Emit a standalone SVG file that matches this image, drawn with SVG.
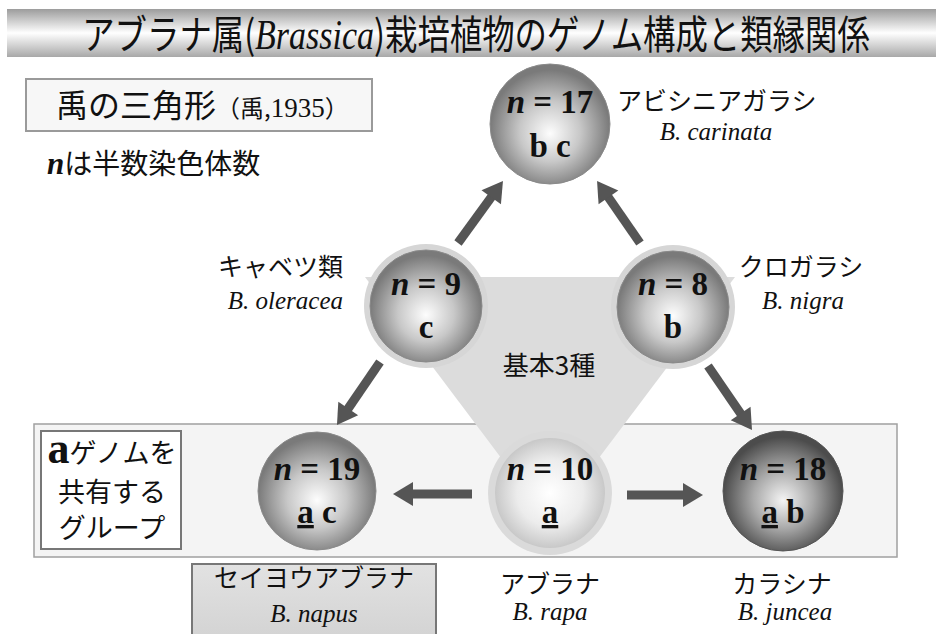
<svg xmlns="http://www.w3.org/2000/svg" width="936" height="634" viewBox="0 0 936 634">
<defs>
<linearGradient id="titleGrad" x1="0" y1="0" x2="0" y2="1">
<stop offset="0" stop-color="#9c9c9c"/>
<stop offset="0.5" stop-color="#ffffff"/>
<stop offset="1" stop-color="#a8a8a8"/>
</linearGradient>
<radialGradient id="sphMid" cx="0.5" cy="0.55" r="0.5" fx="0.5" fy="0.58">
<stop offset="0" stop-color="#fdfdfd"/>
<stop offset="0.5" stop-color="#c8c8c8"/>
<stop offset="1" stop-color="#7a7a7a"/>
</radialGradient>
<radialGradient id="sphDark" cx="0.5" cy="0.55" r="0.5" fx="0.5" fy="0.58">
<stop offset="0" stop-color="#f4f4f4"/>
<stop offset="0.5" stop-color="#a8a8a8"/>
<stop offset="1" stop-color="#4c4c4c"/>
</radialGradient>
<radialGradient id="sphLight" cx="0.5" cy="0.5" r="0.5" fx="0.5" fy="0.5">
<stop offset="0" stop-color="#ffffff"/>
<stop offset="0.6" stop-color="#ececec"/>
<stop offset="1" stop-color="#c8c8c8"/>
</radialGradient>
<linearGradient id="napusGrad" x1="0" y1="0" x2="0" y2="1">
<stop offset="0" stop-color="#e2e2e2"/>
<stop offset="1" stop-color="#d2d2d2"/>
</linearGradient>
<marker id="ah" markerUnits="userSpaceOnUse" markerWidth="24" markerHeight="26" viewBox="0 -13 22 26" refX="2" refY="0" orient="auto">
<path d="M0,-12 L20,0 L0,12 Z" fill="#555"/>
</marker>
</defs>
<style>
.jp{font-family:"Noto Sans CJK JP","Noto Sans",sans-serif;fill:#111;}
.lat{font-family:"Liberation Serif","Times New Roman",serif;fill:#111;}
.it{font-style:italic;}
.num{font-family:"Liberation Serif","Times New Roman",serif;font-weight:bold;font-size:33px;fill:#111;text-anchor:middle;}
.lbl{font-size:25px;}
.sp{font-family:"Liberation Serif","Times New Roman",serif;font-style:italic;font-size:25px;fill:#111;}
.arrow{stroke:#555;stroke-width:9;fill:none;marker-end:url(#ah);}
.halo{fill:#d6d6d6;}
.edge{stroke:#8a8a8a;stroke-width:1;}
</style>
<rect width="936" height="634" fill="#ffffff"/>

<g id="title">
<rect x="7" y="9" width="929" height="48" fill="url(#titleGrad)"/>
<g transform="translate(476,49) scale(0.81,1)">
<text class="jp" x="0" y="0" font-size="40" text-anchor="middle">アブラナ属(<tspan style="font-family:'Liberation Serif',serif;font-style:italic" font-size="42">Brassica</tspan>)栽培植物のゲノム構成と類縁関係</text>
</g>
</g>

<g id="u-triangle-box">
<rect x="26" y="79" width="346" height="52" fill="#f7f7f7" stroke="#9a9a9a" stroke-width="2"/>
<text class="jp" x="56" y="117" font-size="32">禹の三角形<tspan font-size="24">（禹,</tspan><tspan style="font-family:'Liberation Serif',serif" font-size="27">1935</tspan><tspan font-size="24">）</tspan></text>
</g>
<g id="note">
<text class="jp" x="47" y="174" font-size="28"><tspan style="font-family:'Liberation Serif',serif;font-style:italic;font-weight:bold" font-size="31">n</tspan>は半数染色体数</text>
</g>

<g id="a-group">
<rect x="34" y="424" width="863" height="133" fill="#f4f4f4" stroke="#a0a0a0" stroke-width="1.5"/>
</g>

<g id="basic-triangle">
<polygon points="365,277 735,277 550,523" fill="#dcdcdc"/>
<text class="jp" x="549" y="375" font-size="26" text-anchor="middle">基本3種</text>
</g>

<g id="a-group-label">
<rect x="41" y="431" width="140" height="118" fill="#ffffff" stroke="#777" stroke-width="2"/>
<text class="jp" x="112" y="463" font-size="27" text-anchor="middle"><tspan style="font-family:'Liberation Serif',serif;font-weight:bold" font-size="44">a</tspan>ゲノムを</text>
<text class="jp" x="112" y="502" font-size="27" text-anchor="middle">共有する</text>
<text class="jp" x="112" y="538" font-size="27" text-anchor="middle">グループ</text>
</g>

<g id="connectors">
<line class="arrow" x1="458" y1="243" x2="492.4" y2="195.6"/>
<line class="arrow" x1="640" y1="243" x2="607.3" y2="195.8"/>
<line class="arrow" x1="380" y1="362" x2="347.1" y2="410.1"/>
<line class="arrow" x1="708" y1="366" x2="741.8" y2="415.2"/>
<line class="arrow" x1="472" y1="494" x2="411" y2="494"/>
<line class="arrow" x1="627" y1="495" x2="685" y2="495"/>
</g>

<g id="node-carinata">
<circle cx="550" cy="124" r="60" fill="url(#sphMid)" class="edge"/>
<text class="num" x="550" y="113"><tspan font-style="italic">n</tspan> = 17</text>
<text class="num" x="550" y="157">b c</text>
<text class="jp lbl" x="617" y="110">アビシニアガラシ</text>
<text class="sp" x="716" y="140" text-anchor="middle">B. carinata</text>
</g>

<g id="node-oleracea">
<circle cx="426" cy="306" r="62" class="halo"/>
<circle cx="426" cy="306" r="56" fill="url(#sphMid)" class="edge"/>
<text class="num" x="426" y="295"><tspan font-style="italic">n</tspan> = 9</text>
<text class="num" x="426" y="338">c</text>
<text class="jp lbl" x="343" y="276" text-anchor="end">キャベツ類</text>
<text class="sp" x="343" y="309" text-anchor="end">B. oleracea</text>
</g>

<g id="node-nigra">
<circle cx="673" cy="307" r="62" class="halo"/>
<circle cx="673" cy="307" r="56" fill="url(#sphMid)" class="edge"/>
<text class="num" x="673" y="295"><tspan font-style="italic">n</tspan> = 8</text>
<text class="num" x="673" y="338">b</text>
<text class="jp lbl" x="801" y="276" text-anchor="middle">クロガラシ</text>
<text class="sp" x="803" y="309" text-anchor="middle">B. nigra</text>
</g>

<g id="node-rapa">
<circle cx="550" cy="493" r="62" fill="#dadada"/>
<circle cx="550" cy="493" r="55" fill="url(#sphLight)"/>
<text class="num" x="550" y="480"><tspan font-style="italic">n</tspan> = 10</text>
<text class="num" x="550" y="523"><tspan text-decoration="underline">a</tspan></text>
<text class="jp lbl" x="550" y="593" text-anchor="middle">アブラナ</text>
<text class="sp" x="550" y="620" text-anchor="middle">B. rapa</text>
</g>

<g id="node-napus">
<circle cx="317" cy="491" r="59" fill="url(#sphMid)" class="edge"/>
<text class="num" x="317" y="480"><tspan font-style="italic">n</tspan> = 19</text>
<text class="num" x="317" y="523"><tspan text-decoration="underline">a</tspan> c</text>
<rect x="192" y="564" width="244" height="80" fill="url(#napusGrad)" stroke="#777" stroke-width="2"/>
<text class="jp lbl" x="314" y="587" text-anchor="middle">セイヨウアブラナ</text>
<text class="sp" x="314" y="622" text-anchor="middle">B. napus</text>
</g>

<g id="node-juncea">
<circle cx="783" cy="491" r="60" fill="url(#sphDark)" stroke="#555" stroke-width="1"/>
<text class="num" x="783" y="480"><tspan font-style="italic">n</tspan> = 18</text>
<text class="num" x="783" y="523"><tspan text-decoration="underline">a</tspan> b</text>
<text class="jp lbl" x="782" y="593" text-anchor="middle">カラシナ</text>
<text class="sp" x="785" y="620" text-anchor="middle">B. juncea</text>
</g>
</svg>
